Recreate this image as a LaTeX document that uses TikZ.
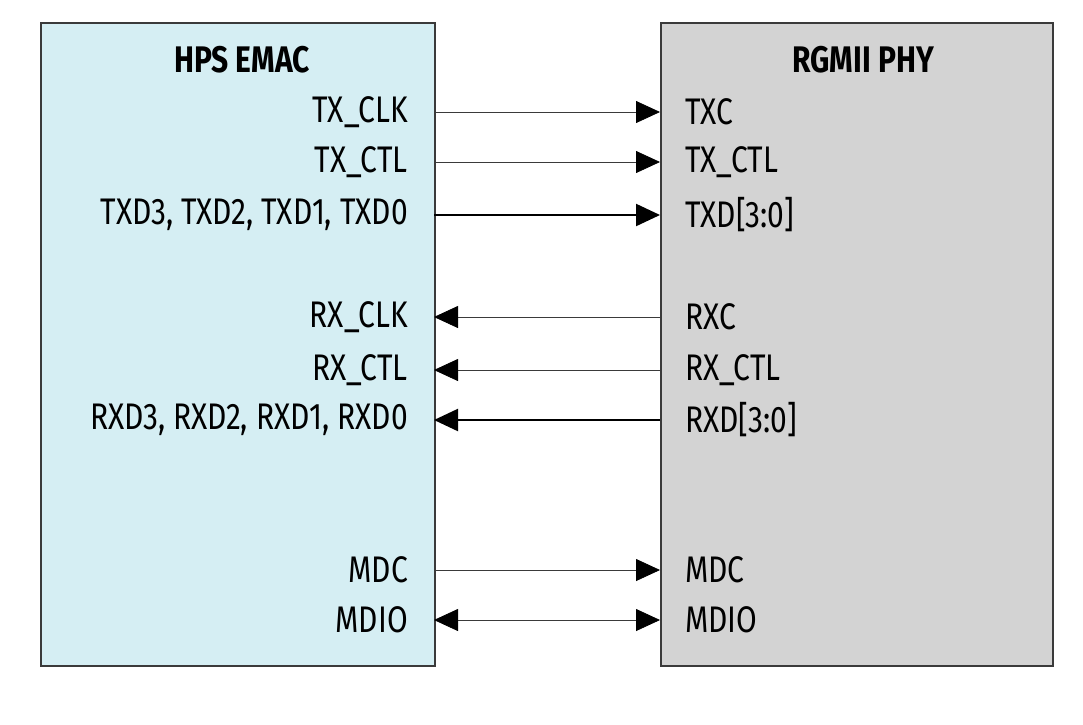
\documentclass[tikz,border=0pt]{standalone}
\usepackage{fontspec}
\setmainfont{Fira Sans}[FakeStretch=0.81]
\usetikzlibrary{arrows.meta}
\definecolor{cy}{HTML}{D5EEF3}
\definecolor{gr}{HTML}{D3D3D3}
\definecolor{bd}{HTML}{3A3A3A}
\begin{document}
\begin{tikzpicture}[x=1pt,y=-1pt,
 box/.style={draw=bd,line width=1.5pt},
 lab/.style={font=\fontsize{37}{39}\selectfont,inner sep=0pt},
 ttl/.style={font=\fontsize{37}{39}\selectfont\bfseries,inner sep=0pt},
 sig/.style={line width=0.8pt,draw=bd},
 bus/.style={line width=2.2pt,draw=black},
 T/.tip={Triangle[length=24pt,width=22pt,fill=black,color=black]},
 tip/.style={-T}]
\useasboundingbox (0,0) rectangle (1083,724);
\fill[white] (0,0) rectangle (1083,724);
\node[box,fill=cy,minimum width=394,minimum height=643,anchor=north west] (L) at (40,22) {};
\node[box,fill=gr,minimum width=392,minimum height=643,anchor=north west] (R) at (660,22) {};
\node[ttl,anchor=base east] (lt) at (310,72) {HPS EMAC};
\node[ttl,anchor=base east] (rt) at (934,72) {RGMII PHY};
\foreach \n/\y/\l/\r in {a/112/TX\_CLK/TXC, b/162/TX\_CTL/TX\_CTL, c/215/{TXD3, TXD2, TXD1, TXD0}/TXD[3:0], d/317/RX\_CLK/RXC, e/370/RX\_CTL/RX\_CTL, f/420/{RXD3, RXD2, RXD1, RXD0}/RXD[3:0], g/570/MDC/MDC, h/620/MDIO/MDIO}{
 \node[lab,anchor=east] (l\n) at (408,\y) {\l};
 \node[lab,anchor=west] (r\n) at (685,\y) {\r};
 \coordinate (pl\n) at (434,\y);
 \coordinate (pr\n) at (660,\y);
}
\draw[sig,tip] (pla) -- (pra);
\draw[sig,tip] (plb) -- (prb);
\draw[bus,tip] (plc) -- (prc);
\draw[sig,tip] (prd) -- (pld);
\draw[sig,tip] (pre) -- (ple);
\draw[bus,tip] (prf) -- (plf);
\draw[sig,tip] (plg) -- (prg);
\draw[sig,T-T] (plh) -- (prh);
\end{tikzpicture}
\end{document}
